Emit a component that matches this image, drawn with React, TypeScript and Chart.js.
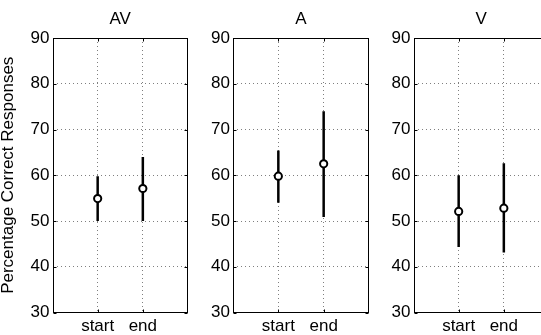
import React, { useEffect, useRef } from "react";
import { Chart, registerables } from "chart.js";

Chart.register(...registerables);

// ---- data ----
const categories = ["start", "end"];
const panelTitles = ["AV", "A", "V"];
const yTicks = [30, 40, 50, 60, 70, 80, 90];
const yAxisTitle = "Percentage Correct Responses";

const avMean = [54.9, 57.1];
const avLow = [50.0, 50.0];
const avHigh = [59.8, 64.0];

const aMean = [59.8, 62.5];
const aLow = [54.0, 50.9];
const aHigh = [65.4, 74.0];

const vMean = [52.1, 52.8];
const vLow = [44.3, 43.1];
const vHigh = [60.0, 62.6];

const seriesMeans = [avMean, aMean, vMean];
const seriesLows = [avLow, aLow, vLow];
const seriesHighs = [avHigh, aHigh, vHigh];

// ---- layout ----
const FONT = "'Liberation Sans', Arial, Helvetica, sans-serif";
const FS = 17;
const panelLayout = [
  { left: 0, width: 200, yWidth: 52.5, plotWidth: 135.5 },
  { left: 190, width: 200, yWidth: 43, plotWidth: 136 },
  { left: 370, width: 200, yWidth: 43.5, plotWidth: 135.5 },
];
const CANVAS_H = 335;
const X_AXIS_H = 22.5;
const TOP_H = 38;

const boxPlugin = {
  id: "matlabBox",
  afterDraw(chart: any, _args: any, opts: any) {
    const { ctx, chartArea } = chart;
    const { left, right, top, bottom } = chartArea;
    const xs = chart.scales.x;
    const ys = chart.scales.y;
    ctx.save();
    ctx.strokeStyle = "#000";
    ctx.lineWidth = 1;
    const L = Math.round(left) + 0.5;
    const R = Math.round(right) - 0.5;
    const T = Math.round(top) + 0.5;
    const B = Math.round(bottom) - 0.5;
    ctx.strokeRect(L, T, R - L, B - T);
    const tl = 3;
    ctx.beginPath();
    yTicks.forEach((v) => {
      const y = Math.round(ys.getPixelForValue(v)) + 0.5;
      ctx.moveTo(L, y);
      ctx.lineTo(L + tl, y);
      ctx.moveTo(R, y);
      ctx.lineTo(R - tl, y);
    });
    categories.forEach((_, i) => {
      const x = Math.round(xs.getPixelForValue(i + 1)) + 0.5;
      ctx.moveTo(x, T);
      ctx.lineTo(x, T + tl);
      ctx.moveTo(x, B);
      ctx.lineTo(x, B - tl);
    });
    ctx.stroke();
    // panel title centred over the plot box
    ctx.fillStyle = "#000";
    ctx.font = `${FS}px ${FONT}`;
    ctx.textAlign = "center";
    ctx.textBaseline = "alphabetic";
    ctx.fillText(opts.text, (left + right) / 2, 24);
    ctx.restore();
  },
};

function Panel({ index }: { index: number }) {
  const ref = useRef<HTMLCanvasElement | null>(null);
  const lay = panelLayout[index];
  useEffect(() => {
    if (!ref.current) return;
    const means = seriesMeans[index];
    const lows = seriesLows[index];
    const highs = seriesHighs[index];
    const datasets: any[] = categories.map((_, i) => ({
      type: "line",
      data: [
        { x: i + 1, y: lows[i] },
        { x: i + 1, y: highs[i] },
      ],
      borderColor: "#000",
      borderWidth: 2.5,
      pointRadius: 0,
      showLine: true,
      order: 2,
    }));
    datasets.push({
      type: "scatter",
      data: categories.map((_, i) => ({ x: i + 1, y: means[i] })),
      pointRadius: 3.6,
      pointBorderWidth: 2,
      pointBorderColor: "#000",
      pointBackgroundColor: "#fff",
      order: 1,
    });
    const rightPad = lay.width - lay.yWidth - lay.plotWidth;
    const chart = new Chart(ref.current, {
      type: "scatter",
      data: { datasets },
      plugins: [boxPlugin],
      options: {
        responsive: false,
        animation: false,
        devicePixelRatio: 1,
        layout: { padding: { left: 0, right: rightPad, top: TOP_H, bottom: 0 } },
        plugins: {
          legend: { display: false },
          tooltip: { enabled: false },
          title: { display: false },
          matlabBox: { text: panelTitles[index] },
        },
        scales: {
          x: {
            type: "linear",
            min: 0,
            max: 3,
            afterBuildTicks: (s: any) => {
              s.ticks = categories.map((_, i) => ({ value: i + 1 }));
            },
            afterFit: (s: any) => {
              s.height = X_AXIS_H;
            },
            ticks: {
              callback: (v: any) => categories[Number(v) - 1] ?? "",
              color: "#000",
              font: { family: FONT, size: FS },
              padding: 3.5,
              maxRotation: 0,
              autoSkip: false,
            },
            grid: {
              color: "rgba(0,0,0,0.5)",
              lineWidth: 1,
              drawTicks: false,
            },
            border: { display: false, dash: [1, 3] },
          },
          y: {
            type: "linear",
            min: 30,
            max: 90,
            afterBuildTicks: (s: any) => {
              s.ticks = yTicks.map((v) => ({ value: v }));
            },
            afterFit: (s: any) => {
              s.width = lay.yWidth;
            },
            ticks: {
              color: "#000",
              font: { family: FONT, size: FS },
              padding: 3,
              autoSkip: false,
            },
            grid: {
              color: "rgba(0,0,0,0.5)",
              lineWidth: 1,
              drawTicks: false,
            },
            border: { display: false, dash: [1, 3] },
            title: {
              display: index === 0,
              text: yAxisTitle,
              color: "#000",
              font: { family: FONT, size: FS, lineHeight: 1 },
              padding: { top: 0.25, bottom: 0 },
            },
          },
        },
      } as any,
    });
    return () => chart.destroy();
  }, [index]);
  return (
    <canvas
      ref={ref}
      width={lay.width}
      height={CANVAS_H}
      style={{ position: "absolute", left: lay.left, top: 0, width: lay.width, height: CANVAS_H }}
    />
  );
}

export default function App() {
  useEffect(() => {
    document.body.style.margin = "0";
    document.body.style.overflow = "hidden";
  }, []);
  return (
    <div style={{ position: "relative", width: 541, height: 335, overflow: "hidden", background: "#fff" }}>
      {panelTitles.map((_, i) => (
        <Panel key={i} index={i} />
      ))}
    </div>
  );
}
